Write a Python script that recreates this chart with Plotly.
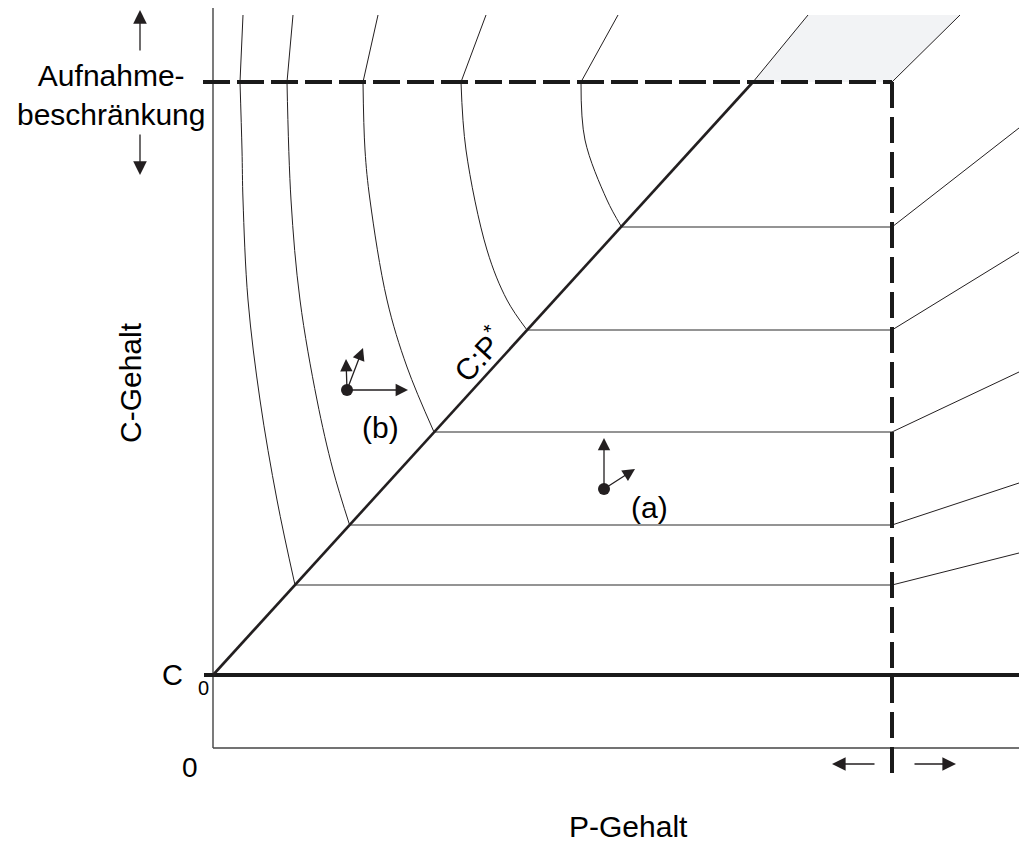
import plotly.graph_objects as go

# ---------------- data (diagram units: P-Gehalt horizontally, C-Gehalt vertically) ----------------
P_MAX = 806            # right end of P axis
C_AXIS_TOP = 740       # top of C axis
C0 = 73                # C_0 level
C_LIMIT = 666          # Aufnahmebeschränkung (C)
P_LIMIT = 679          # P limit (dashed vertical)
C_LOW = -25            # lower end of dashed vertical
P_DIAG_END = 540       # C:P* meets Aufnahmebeschränkung
C_TOP = 733            # top end of upper iso-lines

# iso-lines of region (a): level, where they start on C:P*, level at right border
iso_C = [163, 223, 316, 418, 521]
iso_P_start = [82, 136.6, 221, 314, 408]
iso_C_right = [195, 265, 376, 496, 620]

# iso-curves of region (b): straight part above the limit, curved part below
curve_top_P = [30, 80, 165, 273, 405]
curve_low_P = [
    [27, 29, 30, 35, 47, 64, 82],
    [74, 78, 87, 104, 120, 136.6],
    [150, 152, 157, 174, 194, 221],
    [248, 253, 274, 294, 314],
    [368, 372, 394, 408],
]
curve_low_C = [
    [666, 598, 548, 448, 348, 248, 163],
    [666, 548, 448, 348, 278, 223],
    [666, 598, 548, 448, 381, 316],
    [666, 598, 498, 448, 418],
    [666, 608, 548, 522],
]

# shaded region above the limit
shade_P = [540, 595, 747, 679]
shade_C = [666, 733, 733, 666]

# process points and arrows
dot_b = (134, 358)
arrows_b = [(195, 358), (133, 389), (150, 400)]
dot_a = (391, 259)
arrows_a = [(391, 310), (422, 279)]

INK = "#231f20"
FONT = "Liberation Sans, Arial, sans-serif"

fig = go.Figure()


def line(x, y, color=INK, width=1.0, dash=None, shape="linear"):
    fig.add_trace(go.Scatter(x=x, y=y, mode="lines", hoverinfo="skip",
                             line=dict(color=color, width=width, dash=dash, shape=shape,
                                       smoothing=1.0 if shape == "spline" else None)))


# shaded parallelogram
fig.add_trace(go.Scatter(x=shade_P + [shade_P[0]], y=shade_C + [shade_C[0]], mode="lines",
                         fill="toself", fillcolor="#f2f3f5", line=dict(width=0),
                         hoverinfo="skip"))
line([shade_P[0], shade_P[1]], [shade_C[0], shade_C[1]], width=1)
line([shade_P[3], shade_P[2]], [shade_C[3], shade_C[2]], width=1)

# axes
line([0, 0], [0, C_AXIS_TOP], color="#333333", width=1.3)
line([0, P_MAX], [0, 0], color="#444444", width=1.3)

# iso-lines region (a)
for c, p0, cr in zip(iso_C, iso_P_start, iso_C_right):
    line([p0, P_LIMIT], [c, c], color="#707070", width=1.4)
    line([P_LIMIT, P_MAX], [c, cr], width=1)

# iso-curves region (b)
for pt, lp, lc in zip(curve_top_P, curve_low_P, curve_low_C):
    line([pt, lp[0]], [C_TOP, lc[0]], width=1)
    line(lp, lc, width=1, shape="spline")

# C_0 line
line([-9, P_MAX], [C0, C0], color="#1a1a1a", width=4)
# C:P* line
line([0, P_DIAG_END], [C0, C_LIMIT], width=2.6)
# limits (dashed)
line([-10, P_LIMIT], [C_LIMIT, C_LIMIT], color="#1a1a1a", width=4, dash="27px,7px")
line([P_LIMIT, P_LIMIT], [C_LIMIT, C_LOW], color="#1a1a1a", width=4, dash="26px,9px")

# dots
fig.add_trace(go.Scatter(x=[dot_b[0], dot_a[0]], y=[dot_b[1], dot_a[1]], mode="markers",
                         marker=dict(size=12, color=INK), hoverinfo="skip"))

ann = []


def arrow(tail, head, scale=2.1, width=1.3):
    ann.append(dict(x=head[0], y=head[1], ax=tail[0], ay=tail[1], xref="x", yref="y",
                    axref="x", ayref="y", text="", showarrow=True, arrowhead=2,
                    arrowsize=scale, arrowwidth=width, arrowcolor=INK, standoff=0,
                    startstandoff=0))


for h in arrows_b:
    arrow(dot_b, h, scale=1.9)
for h in arrows_a:
    arrow(dot_a, h, scale=1.9)

# Aufnahmebeschränkung arrows
arrow((-73, 696), (-73, 738))
arrow((-73, 615), (-73, 573))
# P limit arrows
arrow((663, -16), (619, -16))
arrow((700, -16), (743, -16))


def text(x, y, s, size=30, angle=0):
    ann.append(dict(x=x, y=y, xref="x", yref="y", text=s, showarrow=False,
                    textangle=angle, font=dict(family=FONT, size=size, color="black"),
                    xanchor="center", yanchor="middle"))


text(-102, 653, "Aufnahme-<br>beschränkung")
text(-83, 365, "C-Gehalt", angle=-90)
text(415, -78, "P-Gehalt")
text(-23, -19, "0", size=28)
text(-41, 73, "C", size=29)
text(-10, 60, "0", size=20)
text(265, 394, "C:P<sup>*</sup>", angle=-47.7)
text(167, 321, "(b)")
text(436, 241, "(a)")

fig.update_layout(
    width=1019, height=843,
    margin=dict(l=0, r=0, t=0, b=0),
    paper_bgcolor="white", plot_bgcolor="white",
    showlegend=False,
    xaxis=dict(range=[-213, 806], visible=False, fixedrange=True),
    yaxis=dict(range=[-95, 748], visible=False, fixedrange=True),
    annotations=ann,
)

fig.write_html("out.html", config={"displayModeBar": False})

# remove the default page margin so the figure sits at the window's top-left corner
with open("out.html", encoding="utf-8") as f:
    html = f.read()
html = html.replace("<head>", "<head><style>html,body{margin:0;padding:0;overflow:hidden;}</style>", 1)
with open("out.html", "w", encoding="utf-8") as f:
    f.write(html)
